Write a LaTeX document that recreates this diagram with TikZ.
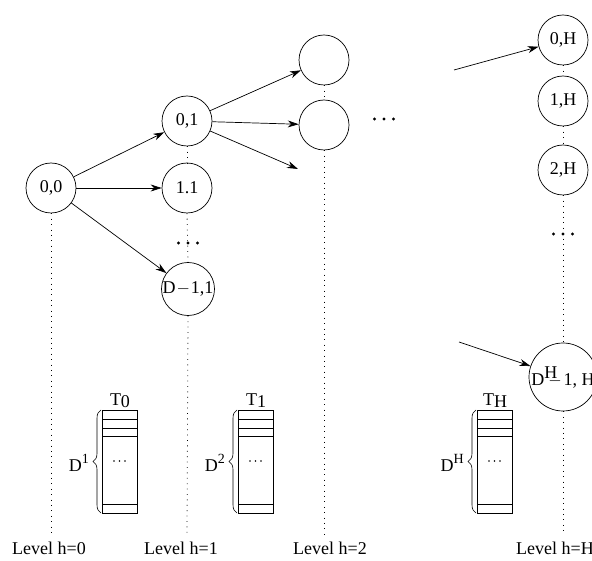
\documentclass[tikz,border=0pt]{standalone}
\usepackage{fontspec}
\setmainfont{Liberation Serif}
\usetikzlibrary{arrows.meta,decorations.pathreplacing}
\newcommand{\bigdots}{\tikz[baseline]{\foreach \i in {0,1,2}{\fill (\i*9.5pt,0) circle (1.7pt);}}}
\newcommand{\smalldots}{\tikz[baseline]{\foreach \i in {0,1,2}{\fill (\i*5.5pt,0) circle (0.9pt);}}}
\begin{document}
\begin{tikzpicture}[x=1pt,y=-1pt,
  st/.style={circle,draw,line width=0.7pt,minimum size=50pt,inner sep=0pt,font=\fontsize{18}{18}\selectfont},
  arr/.style={-{Stealth[length=11pt,width=7pt]},line width=0.7pt},
  dotl/.style={line width=0.8pt,dash pattern=on 0.8pt off 4.6pt},
  lbl/.style={anchor=west,inner sep=0pt,font=\fontsize{18}{18}\selectfont},
  tbl/.style={draw,line width=0.7pt},
  brc/.style={decorate,decoration={brace,amplitude=8pt,aspect=0.5},line width=0.6pt},
  txt/.style={inner sep=0pt,font=\fontsize{18}{18}\selectfont}]
\useasboundingbox (0,0) rectangle (592,561);
\clip (0,0) rectangle (592,561);

% level 0
\node[st] (n00) at (51,188) {0,0};
% level 1
\node[st] (n01) at (187,121) {0,1};
\node[st] (n11) at (187,188) {1.1};
\node[st] (nD1) at (188,289) {D\kern1pt$-$\kern1pt1,1};
\node[inner sep=0pt] (d1) at (188,243) {\bigdots};
% level 2
\node[st] (n02) at (324,60) {};
\node[st] (n12) at (324,125) {};
\coordinate (e3) at (298,169);
\node[inner sep=0pt] (d2) at (384,119) {\bigdots};
% level H
\node[st] (n0H) at (563,40) {0,H};
\node[st] (n1H) at (563,101) {1,H};
\node[st] (n2H) at (563,170) {2,H};
\node[st,minimum size=68pt] (nDH) at (563,377) {D\raisebox{7pt}{H}\kern-9pt$-$\kern2pt1, H};
\node[inner sep=0pt] (dH) at (563,234) {\bigdots};
\coordinate (sH0) at (454,70);
\coordinate (sHD) at (459,342);

% level labels
\node[lbl] (lv0) at (12,548) {Level h=0};
\node[lbl] (lv1) at (144,548) {Level h=1};
\node[lbl] (lv2) at (293,548) {Level h=2};
\node[lbl] (lvH) at (516,548) {Level h=H};
\coordinate (b0) at (51,535);
\coordinate (b1) at (187,535);
\coordinate (b2) at (324,535);
\coordinate (bH) at (563,535);

% dotted verticals
\draw[dotl] (n00.south) -- (b0);
\draw[dotl] (n01.south) -- (n11.north);
\draw[dotl] (n11.south) -- (nD1.north);
\draw[dotl] (nD1.south) -- (b1);
\draw[dotl] (n02.south) -- (n12.north);
\draw[dotl] (n12.south) -- (b2);
\draw[dotl] (n0H.south) -- (n1H.north);
\draw[dotl] (n1H.south) -- (n2H.north);
\draw[dotl] (n2H.south) -- (nDH.north);
\draw[dotl] (nDH.south) -- (bH);

% arrows
\draw[arr] (n00) -- (n01);
\draw[arr] (n00) -- (n11);
\draw[arr] (n00) -- (nD1);
\draw[arr] (n01) -- (n02);
\draw[arr] (n01) -- (n12);
\draw[arr] (n01) -- (e3);
\draw[arr] (sH0) -- (n0H);
\draw[arr] (sHD) -- (nDH);

% tables
\foreach \x/\nm/\sub/\sup in {102/0/0/1, 238/1/1/2, 477/H/H/H}{
  \draw[tbl] (\x,410) rectangle (\x+35,513);
  \draw[tbl] (\x,419) -- (\x+35,419);
  \draw[tbl] (\x,428) -- (\x+35,428);
  \draw[tbl] (\x,436) -- (\x+35,436);
  \draw[tbl] (\x,504) -- (\x+35,504);
  \node[inner sep=0pt] (td\nm) at (\x+17.5,461) {\smalldots};
  \node[txt] (tl\nm) at (\x+18,401) {T\raisebox{-2pt}{\sub}};
  \draw[brc] (\x-1,513) -- (\x-1,410);
  \node[txt,anchor=east] (dl\nm) at (\x-13,463) {D\raisebox{8pt}{\fontsize{14}{14}\selectfont\sup}};
}
\end{tikzpicture}
\end{document}
